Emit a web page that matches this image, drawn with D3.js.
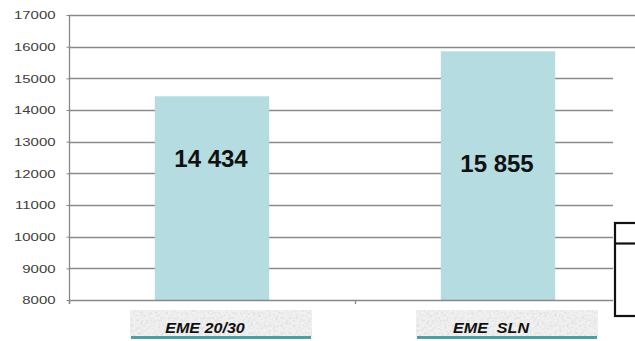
<!DOCTYPE html>
<html>
<head>
<meta charset="utf-8">
<script src="https://cdn.jsdelivr.net/npm/d3@7"></script>
<style>
  html, body { margin: 0; padding: 0; background: #fff; }
  svg { display: block; font-family: "Liberation Sans", Arial, sans-serif; }
</style>
</head>
<body>
<svg id="chart" width="635" height="341"></svg>
<script>
// Chart data
const categories = ["EME 20/30", "EME  SLN"];
const values = [14434, 15855];
const valueLabels = ["14 434", "15 855"];
const yTicks = [8000, 9000, 10000, 11000, 12000, 13000, 14000, 15000, 16000, 17000];

const svg = d3.select("#chart");

const x = d3.scaleBand()
  .domain(categories)
  .range([69, 641])
  .paddingInner(0.6)
  .paddingOuter(0.3);

const y = d3.scaleLinear()
  .domain([8000, 17000])
  .range([300, 15]);

// Grain texture for the category label plates
const defs = svg.append("defs");
const f = defs.append("filter").attr("id", "grain")
  .attr("x", 0).attr("y", 0).attr("width", 1).attr("height", 1);
f.append("feTurbulence").attr("type", "fractalNoise")
  .attr("baseFrequency", "0.4").attr("numOctaves", 3).attr("seed", 7).attr("result", "n");
f.append("feColorMatrix").attr("in", "n").attr("type", "matrix")
  .attr("values", "0 0 0 0 0.7  0 0 0 0 0.7  0 0 0 0 0.7  2.2 0 0 0 -0.9");

// Horizontal gridlines
svg.append("g")
  .selectAll("line")
  .data(yTicks.slice(1))
  .join("line")
  .attr("x1", 69).attr("x2", 641)
  .attr("y1", d => Math.round(y(d)) + 0.5)
  .attr("y2", d => Math.round(y(d)) + 0.5)
  .attr("stroke", "#8a8a8a")
  .attr("stroke-width", 1.3);

// Bars
svg.append("g")
  .selectAll("rect")
  .data(values)
  .join("rect")
  .attr("x", (d, i) => x(categories[i]))
  .attr("width", x.bandwidth())
  .attr("y", d => y(d))
  .attr("height", d => y(8000) - y(d))
  .attr("fill", "#b5dde1");

// Value labels inside the bars
const labelBaselines = [167, 172];
svg.append("g")
  .selectAll("text")
  .data(valueLabels)
  .join("text")
  .attr("x", (d, i) => x(categories[i]) + x.bandwidth() / 2 - 1)
  .attr("y", (d, i) => labelBaselines[i])
  .attr("text-anchor", "middle")
  .attr("font-size", 24)
  .attr("font-weight", "bold")
  .attr("fill", "#111")
  .text(d => d);

// Y axis
const yAxis = svg.append("g")
  .attr("transform", "translate(69.5,0)")
  .call(d3.axisLeft(y).tickValues(yTicks).tickSize(3).tickPadding(0).tickFormat(d3.format("d")));
yAxis.select(".domain").attr("stroke", "#888").attr("stroke-width", 1.3)
  .attr("d", "M0," + y(17000) + "V304");
yAxis.selectAll(".tick line").attr("stroke", "#888");
yAxis.selectAll(".tick text")
  .attr("x", -14 / 1.3)
  .attr("transform", "scale(1.3,1)")
  .attr("font-size", 11.5)
  .attr("font-family", "'Liberation Sans', Arial, sans-serif")
  .attr("fill", "#404040");

// X axis baseline with ticks at category boundaries
const bounds = [x.range()[0], x.range()[0] + x.step(), x.range()[1]];
svg.append("line")
  .attr("x1", 69).attr("x2", 641)
  .attr("y1", 300.5).attr("y2", 300.5)
  .attr("stroke", "#888").attr("stroke-width", 1.3);
svg.append("g").selectAll("line")
  .data(bounds)
  .join("line")
  .attr("x1", d => Math.round(d) + 0.5).attr("x2", d => Math.round(d) + 0.5)
  .attr("y1", 300).attr("y2", 304)
  .attr("stroke", "#888").attr("stroke-width", 1.3);

// Blank margin on the right and the framed box
svg.append("rect").attr("x", 613).attr("y", 55).attr("width", 22).attr("height", 286).attr("fill", "#fff");
svg.append("rect").attr("x", 615).attr("y", 223).attr("width", 30).attr("height", 93)
  .attr("fill", "#fff").attr("stroke", "#111").attr("stroke-width", 2.2);
svg.append("line").attr("x1", 615).attr("x2", 635).attr("y1", 243.5).attr("y2", 243.5)
  .attr("stroke", "#111").attr("stroke-width", 2.2);

// Category label plates
const plates = svg.append("g")
  .selectAll("g")
  .data(categories)
  .join("g")
  .attr("transform", d => `translate(${x(d) + x.bandwidth() / 2 + 9},0)`);
plates.append("rect")
  .attr("x", -91).attr("y", 310).attr("width", 182).attr("height", 28)
  .attr("fill", "#f1f1f1");
plates.append("rect")
  .attr("x", -91).attr("y", 310).attr("width", 182).attr("height", 28)
  .attr("filter", "url(#grain)").attr("opacity", 0.8);
plates.append("rect")
  .attr("x", -90).attr("y", 336).attr("width", 180).attr("height", 3)
  .attr("fill", "#4e9ea4");
plates.append("text")
  .attr("x", -16 / 1.15)
  .attr("y", 333)
  .attr("transform", "scale(1.15,1)")
  .attr("text-anchor", "middle")
  .attr("font-size", 14)
  .attr("font-weight", "bold")
  .attr("font-style", "italic")
  .attr("fill", "#111")
  .style("white-space", "pre")
  .text(d => d);
</script>
</body>
</html>
